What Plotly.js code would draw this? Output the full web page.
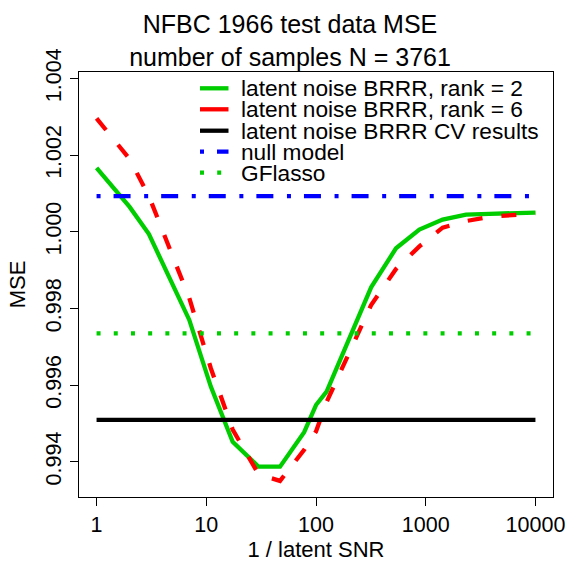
<!DOCTYPE html>
<html>
<head>
<meta charset="utf-8">
<script src="https://cdn.plot.ly/plotly-3.0.1.min.js"></script>
<style>html,body{margin:0;padding:0;background:#fff}#chart{width:568px;height:562px}</style>
</head>
<body>
<div id="chart"></div>
<script>
// 1 / latent SNR values (x)
const snrInv = [1, 2, 3, 7, 11, 17.4, 30, 47, 78, 100, 125, 318, 536, 875, 1426, 2328, 3793, 6158, 10000];
// latent noise BRRR, rank = 2
const mseRank2 = [1.00167, 1.00065, 0.99994, 0.99770, 0.99596, 0.99452, 0.99387, 0.99387, 0.99477, 0.99548, 0.99583, 0.99855, 0.99957, 1.00006, 1.00032, 1.00045, 1.00047, 1.00048, 1.00050];
// latent noise BRRR, rank = 6
const mseRank6 = [1.00296, 1.00190, 1.00093, 0.99827, 0.99644, 0.99484, 0.99367, 0.99350, 0.99431, 0.99479, 0.99556, 0.99809, 0.99903, 0.99962, 1.00011, 1.00028, 1.00039, 1.00044, 1.00048];
// horizontal reference levels
const lineX = [1, 10000];
const mseCV = 0.99509;
const mseNull = 1.00093;
const mseGFlasso = 0.99735;
// tick labels
const xTicks = [1, 10, 100, 1000, 10000];
const xTickText = ['1', '10', '100', '1000', '10000'];
const yTicks = [0.994, 0.996, 0.998, 1.000, 1.002, 1.004];
const yTickText = ['0.994', '0.996', '0.998', '1.000', '1.002', '1.004'];
const legendNames = ['latent noise BRRR, rank = 2', 'latent noise BRRR, rank = 6', 'latent noise BRRR CV results', 'null model', 'GFlasso'];
const titleLines = ['NFBC 1966 test data MSE', 'number of samples N = 3761'];

const FONT = 'Liberation Sans, Arial, Helvetica, sans-serif';
const GREEN = '#00CD00', RED = '#FF0000', BLUE = '#0000FF', BLACK = '#000000';
const LW = 4.3;
const styles = [
  {color: GREEN, dash: 'solid'},
  {color: RED, dash: '15px,19px'},
  {color: BLACK, dash: 'solid'},
  {color: BLUE, dash: '4px,13px,17px,13.6px'},
  {color: GREEN, dash: '4px,13.2px'}
];

const traces = [
  {x: snrInv, y: mseRank2, name: legendNames[0]},
  {x: snrInv, y: mseRank6, name: legendNames[1]},
  {x: lineX, y: lineX.map(() => mseCV), name: legendNames[2]},
  {x: lineX, y: lineX.map(() => mseNull), name: legendNames[3]},
  {x: lineX, y: lineX.map(() => mseGFlasso), name: legendNames[4]}
].map((t, i) => Object.assign(t, {
  type: 'scatter', mode: 'lines', showlegend: false, hoverinfo: 'skip',
  line: {color: styles[i].color, width: LW, dash: styles[i].dash}
}));

// manual legend (R style): short samples + text
const M = {l: 79, r: 15, t: 72, b: 65};
const PW = 568 - M.l - M.r, PH = 562 - M.t - M.b;
const px2x = p => (p - M.l) / PW;
const px2y = p => (562 - M.b - p) / PH;
const rowY = [88.3, 109.3, 130.7, 151.7, 172.7];
const shapes = [], annotations = [];
legendNames.forEach((nm, i) => {
  shapes.push({type: 'line', xref: 'paper', yref: 'paper',
    x0: px2x(200), x1: px2x(228.5), y0: px2y(rowY[i]), y1: px2y(rowY[i]),
    line: {color: styles[i].color, width: LW, dash: i === 3 ? '4px,13px,17px,20px' : (i === 4 ? '4px,13.2px' : 'solid')}});
  annotations.push({xref: 'paper', yref: 'paper', x: px2x(238.5), y: px2y(rowY[i]),
    xanchor: 'left', yanchor: 'middle', showarrow: false, text: nm,
    font: {family: FONT, size: 22.7, color: '#000'}});
});

const layout = {
  width: 568, height: 562,
  margin: M,
  paper_bgcolor: '#fff', plot_bgcolor: '#fff',
  font: {family: FONT, color: '#000', size: 21},
  title: {text: titleLines.join('<br>'),
    font: {family: FONT, size: 25, color: '#000'},
    x: 290 / 568, xref: 'container', xanchor: 'center', y: 1 - 33 / 562, yref: 'container', yanchor: 'middle'},
  xaxis: {type: 'log', range: [-0.16, 4.16], tickvals: xTicks, ticktext: xTickText,
    ticks: 'outside', ticklen: 8, tickwidth: 1, tickcolor: '#000',
    showgrid: false, zeroline: false, showline: true, mirror: true, linecolor: '#000', linewidth: 1,
    tickfont: {family: FONT, size: 21.5},
    title: {text: '1 / latent SNR', font: {family: FONT, size: 22}, standoff: 11}},
  yaxis: {range: [0.99308, 1.00417], tickvals: yTicks, ticktext: yTickText, tickangle: -90,
    ticks: 'outside', ticklen: 8, tickwidth: 1, tickcolor: '#000',
    showgrid: false, zeroline: false, showline: true, mirror: true, linecolor: '#000', linewidth: 1,
    tickfont: {family: FONT, size: 21.5},
    title: {text: 'MSE', font: {family: FONT, size: 22}, standoff: 10}},
  shapes: shapes,
  annotations: annotations,
  showlegend: false
};

Plotly.newPlot('chart', traces, layout, {displayModeBar: false, staticPlot: true});
</script>
</body>
</html>
